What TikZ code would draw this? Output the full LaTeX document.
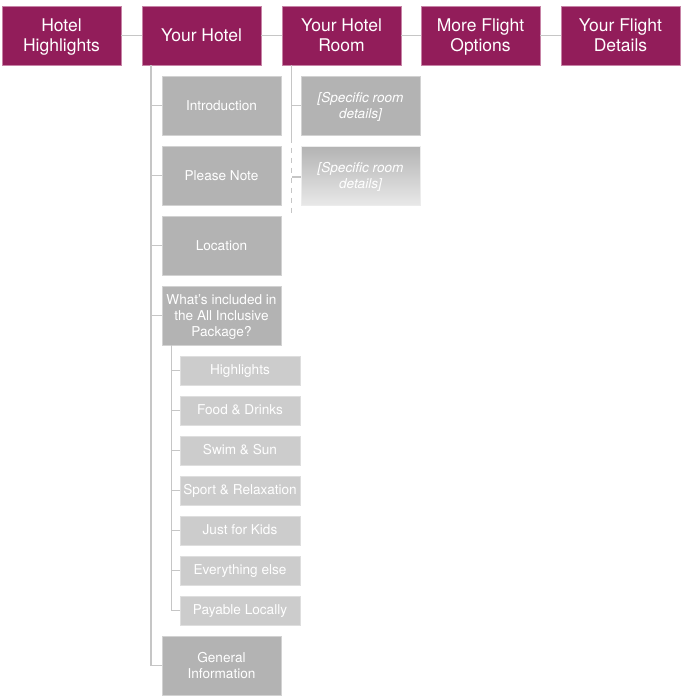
\documentclass[tikz,border=0pt]{standalone}
\usepackage{fontspec}
\setmainfont{TeX Gyre Heros}
\usetikzlibrary{positioning}
\definecolor{plum}{HTML}{921D5A}
\definecolor{plumedge}{HTML}{C783A6}
\definecolor{boxgray}{HTML}{B3B3B3}
\definecolor{boxedge}{HTML}{D2D2D2}
\definecolor{subgray}{HTML}{CCCCCC}
\definecolor{subedge}{HTML}{DEDEDE}
\definecolor{linkgray}{HTML}{C6C6C6}
\tikzset{
  topbox/.style={
    draw=plumedge,
    line width=0.8pt,
    fill=plum,
    text=white,
    align=center,
    inner sep=0pt,
    text depth=0pt,
    minimum width=119pt,
    minimum height=59pt,
    font=\fontsize{17.5}{20}\selectfont
  },
  secbox/.style={
    draw=boxedge,
    line width=0.8pt,
    fill=boxgray,
    text=white,
    align=center,
    inner sep=0pt,
    text depth=0pt,
    minimum width=119pt,
    minimum height=59pt,
    font=\fontsize{13.6}{16}\selectfont
  },
  subbox/.style={
    secbox,
    draw=subedge,
    fill=subgray,
    minimum width=120pt,
    minimum height=29pt,
    text height=10pt,
    text depth=3pt
  },
  roombox/.style={
    secbox,
    font=\fontsize{13.6}{16}\selectfont\itshape
  },
  link/.style={
    draw=linkgray,
    line width=1.8pt
  },
}

\begin{document}
\begin{tikzpicture}[x=1pt,y=-1pt]
  \useasboundingbox (0,0) rectangle (682,696);
  % top row
  \node[topbox] (hh) at (61.5,35.5) {Hotel\\Highlights};
  \node[topbox] (yh) at (201.5,35.5) {Your Hotel};
  \node[topbox] (yr) at (341.5,35.5) {Your Hotel\\Room};
  \node[topbox] (mf) at (480.5,35.5) {More Flight\\Options};
  \node[topbox] (yf) at (620.5,35.5) {Your Flight\\Details};
  \draw[link] (hh) -- (yh);
  \draw[link] (yh) -- (yr);
  \draw[link] (yr) -- (mf);
  \draw[link] (mf) -- (yf);
  % your hotel
  \node[secbox] (intro) at (221.5,105.5) {Introduction};
  \node[secbox] (note) at (221.5,175.5) {Please Note};
  \node[secbox] (loc) at (221.5,245.5) {Location};
  \node[secbox] (incl) at (221.5,315.5) {What's included in\\the All Inclusive\\Package?};
  \node[secbox] (gen) at (221.5,665.5) {General\\Information};
  \coordinate (spine) at ([xshift=-50.5pt]yh.south);
  \draw[link] (spine) |- (gen.west);
  \foreach \n in {intro,note,loc,incl}
    \draw[link] (\n.west) -- (\n.west -| spine);
  % all inclusive
  \node[subbox] (hl) at (240,370.5) {Highlights};
  \node[subbox] (food) at (240,410.5) {Food \& Drinks};
  \node[subbox] (swim) at (240,450.5) {Swim \& Sun};
  \node[subbox] (sport) at (240,490.5) {Sport \& Relaxation};
  \node[subbox] (kids) at (240,530.5) {Just for Kids};
  \node[subbox] (else) at (240,570.5) {Everything else};
  \node[subbox] (pay) at (240,610.5) {Payable Locally};
  \coordinate (subspine) at ([xshift=-50pt]incl.south);
  \draw[link] (subspine) |- (pay.west);
  \foreach \n in {hl,food,swim,sport,kids,else}
    \draw[link] (\n.west) -- (\n.west -| subspine);
  % room
  \node[roombox] (spec1) at (360.5,105.5) {[Specific room\\details]};
  \node[roombox,top color=boxgray,bottom color=boxgray!30,draw=boxgray!25] (spec2) at (360.5,175.5) {[Specific room\\details]};
  \coordinate (rspine) at ([xshift=-50pt]yr.south);
  \coordinate (rmid) at ([yshift=8pt]spec2.north -| rspine);
  \coordinate (rend) at ([yshift=-10pt]spec2.south -| rspine);
  \draw[link] (rspine) -- (rmid);
  \draw[link,dash pattern=on 5pt off 5pt] (rmid) -- (rend);
  \draw[link] (spec1.west) -- (spec1.west -| rspine);
  \draw[link] ([yshift=-1.5pt]spec2.west) -- ([yshift=-1.5pt]spec2.west -| rspine);
\end{tikzpicture}
\end{document}
